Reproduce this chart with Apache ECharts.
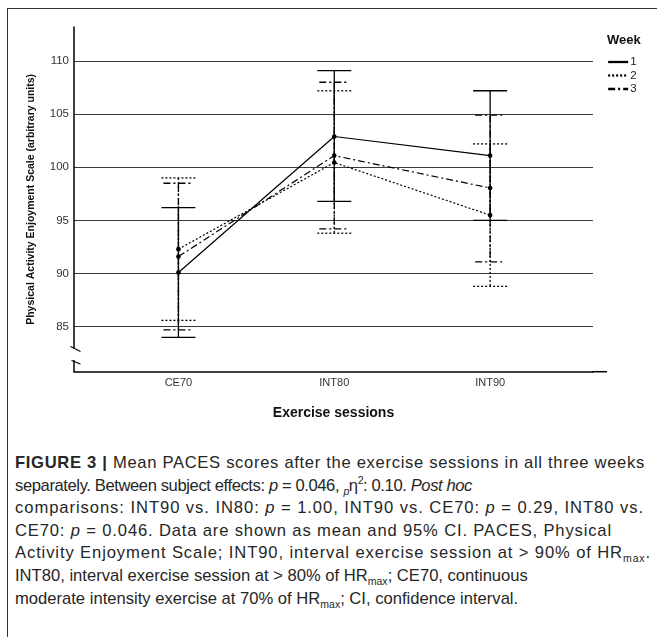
<!DOCTYPE html>
<html>
<head>
<meta charset="utf-8">
<script src="https://cdn.jsdelivr.net/npm/echarts@6/dist/echarts.min.js"></script>
<style>
  body { margin: 0; background: #fff; }
  #wrap { position: relative; width: 657px; height: 637px; overflow: hidden; }
  #frame { position: absolute; left: 7px; top: 8px; right: -2px; bottom: -2px;
           border-left: 1px solid #333; border-top: 1px solid #333; }
  #chart { position: absolute; left: 0; top: 0; width: 657px; height: 440px; }
  #caption { position: absolute; left: 15px; top: 452px; font-family: 'Liberation Sans', Arial, sans-serif;
             font-size: 16.6px; line-height: 22.6px; color: #262626; white-space: nowrap; }
  #caption div { height: 22.6px; }
  #caption sub, #caption sup { font-size: 10.5px; line-height: 0; }
</style>
</head>
<body>
<div id="wrap">
  <div id="frame"></div>
  <div id="chart"></div>
  <!-- data-w: width each printed line takes in the figure -->
  <div id="caption">
    <div><span data-w="630"><b>FIGURE 3 |</b> Mean PACES scores after the exercise sessions in all three weeks</span></div>
    <div><span data-w="457">separately. Between subject effects: <i>p</i> = 0.046, <sub><i>p</i></sub>η<sup>2</sup>: 0.10. <i>Post hoc</i></span></div>
    <div><span data-w="629">comparisons: INT90 vs. IN80: <i>p</i> = 1.00, INT90 vs. CE70: <i>p</i> = 0.29, INT80 vs.</span></div>
    <div><span data-w="597">CE70: <i>p</i> = 0.046. Data are shown as mean and 95% CI. PACES, Physical</span></div>
    <div><span data-w="636">Activity Enjoyment Scale; INT90, interval exercise session at &gt; 90% of HR<sub>max</sub>.</span></div>
    <div><span>INT80, interval exercise session at &gt; 80% of HR<sub>max</sub>; CE70, continuous</span></div>
    <div><span>moderate intensity exercise at 70% of HR<sub>max</sub>; CI, confidence interval.</span></div>
  </div>
</div>
<script>
// sessions on the x axis (placed at 1, 2, 3)
const sessions = ['CE70', 'INT80', 'INT90'];
const weeks = ['1', '2', '3'];

// mean PACES per session, one array per week
const week1Mean = [90.1, 102.9, 101.1];
const week2Mean = [92.3, 100.45, 95.5];
const week3Mean = [91.6, 101.1, 98.05];

// 95% CI bounds
const week1Low = [84.0, 96.8, 95.0];
const week1High = [96.2, 109.1, 107.2];
const week2Low = [85.6, 93.8, 88.8];
const week2High = [99.0, 107.2, 102.2];
const week3Low = [84.7, 94.2, 91.1];
const week3High = [98.5, 108.0, 104.9];

const font = "'Liberation Sans', Arial, sans-serif";
const dashes = ['solid', [2, 2], [7, 3, 2, 3]];

// stretch / squeeze caption lines to the printed widths
document.querySelectorAll('#caption span[data-w]').forEach(sp => {
  const target = +sp.dataset.w;
  const w = sp.getBoundingClientRect().width;
  const n = sp.textContent.length;
  sp.style.letterSpacing = ((target - w) / n).toFixed(3) + 'px';
});

const chart = echarts.init(document.getElementById('chart'));

function pts(vals) {
  return vals.map((v, i) => [i + 1, v]);
}
function ciData(lo, hi, mean) {
  return sessions.map((s, i) => [i + 1, lo[i], hi[i], mean[i]]);
}

// error bar + mean dot
function ciRender(dash, half) {
  return function (params, api) {
    const x = api.value(0);
    const lo = api.coord([x, api.value(1)]);
    const hi = api.coord([x, api.value(2)]);
    const m = api.coord([x, api.value(3)]);
    const st = { stroke: '#000', lineWidth: 1.3, lineDash: dash === 'solid' ? null : dash, fill: null };
    return {
      type: 'group',
      children: [
        { type: 'line', shape: { x1: hi[0], y1: hi[1], x2: lo[0], y2: lo[1] }, style: st },
        { type: 'line', shape: { x1: hi[0] - half, y1: hi[1], x2: hi[0] + half, y2: hi[1] }, style: st },
        { type: 'line', shape: { x1: lo[0] - half, y1: lo[1], x2: lo[0] + half, y2: lo[1] }, style: st },
        { type: 'circle', shape: { cx: m[0], cy: m[1], r: 2.3 }, style: { fill: '#000' } }
      ]
    };
  };
}

const means = [week1Mean, week2Mean, week3Mean];
const lows = [week1Low, week2Low, week3Low];
const highs = [week1High, week2High, week3High];

const series = [];
weeks.forEach((w, k) => {
  series.push({
    name: 'ci' + w,
    type: 'custom',
    renderItem: ciRender(dashes[k], k === 2 ? 15 : 17),
    encode: { x: 0, y: [1, 2, 3] },
    data: ciData(lows[k], highs[k], means[k]),
    z: 3
  });
});
weeks.forEach((w, k) => {
  series.push({
    name: w,
    type: 'line',
    symbol: 'none',
    data: pts(means[k]),
    lineStyle: { color: '#000', width: 1.2, type: dashes[k] },
    z: 4
  });
});

chart.setOption({
  animation: false,
  textStyle: { fontFamily: font },
  grid: { left: 74, right: 64, top: 27, bottom: 68.3 },
  title: {
    text: 'Week', left: 607, top: 34, padding: 0,
    textStyle: { fontFamily: font, fontSize: 13, fontWeight: 'bold', color: '#111' }
  },
  legend: {
    data: weeks,
    orient: 'vertical',
    left: 607, top: 56,
    padding: 0,
    itemWidth: 20, itemHeight: 8, itemGap: 1.5,
    itemStyle: { opacity: 0 },
    lineStyle: { width: 2.3 },
    textStyle: { fontFamily: font, fontSize: 11.5, color: '#222', lineHeight: 8, padding: [0, 0, 0, -3] }
  },
  xAxis: {
    type: 'value',
    min: 0.33, max: 3.66,
    name: 'Exercise sessions',
    nameLocation: 'middle',
    nameGap: 34,
    nameTextStyle: { fontFamily: font, fontSize: 14, fontWeight: 'bold', color: '#111' },
    axisLine: { lineStyle: { color: '#000', width: 1.5 } },
    axisTick: { show: false },
    splitLine: { show: false },
    axisLabel: {
      margin: 6, fontSize: 11, color: '#333',
      customValues: [1, 2, 3],
      formatter: v => (Number.isInteger(v) && sessions[v - 1]) ? sessions[v - 1] : ''
    }
  },
  yAxis: {
    type: 'value',
    min: 80.77, max: 113.2,
    splitNumber: 6,
    name: 'Physical Activity Enjoyment Scale (arbitrary units)',
    nameLocation: 'middle',
    nameGap: 37,
    nameTextStyle: { fontFamily: font, fontSize: 10.5, fontWeight: 'bold', color: '#111' },
    axisLine: { show: true, lineStyle: { color: '#000', width: 1.5 } },
    axisTick: { show: false },
    axisLabel: {
      margin: 5, fontSize: 11.5, color: '#333',
      showMinLabel: false, showMaxLabel: false,
      formatter: v => (v % 5 === 0 ? String(v) : '')
    },
    splitLine: { show: true, showMinLine: false, showMaxLine: false, lineStyle: { color: '#3a3a3a', width: 1.2 } }
  },
  // axis break marks and the short overhang of the x axis
  graphic: [
    { type: 'rect', shape: { x: 71, y: 348, width: 6, height: 12 }, style: { fill: '#fff' }, z: 100 },
    { type: 'line', shape: { x1: 70.5, y1: 346.5, x2: 80.5, y2: 351.5 }, style: { stroke: '#000', lineWidth: 1.2 }, z: 101 },
    { type: 'line', shape: { x1: 71.5, y1: 360.5, x2: 80.5, y2: 364 }, style: { stroke: '#000', lineWidth: 1.2 }, z: 101 },
    { type: 'line', shape: { x1: 592, y1: 371.7, x2: 607, y2: 371.7 }, style: { stroke: '#000', lineWidth: 1.5 }, z: 101 }
  ],
  series: series
});
</script>
</body>
</html>
